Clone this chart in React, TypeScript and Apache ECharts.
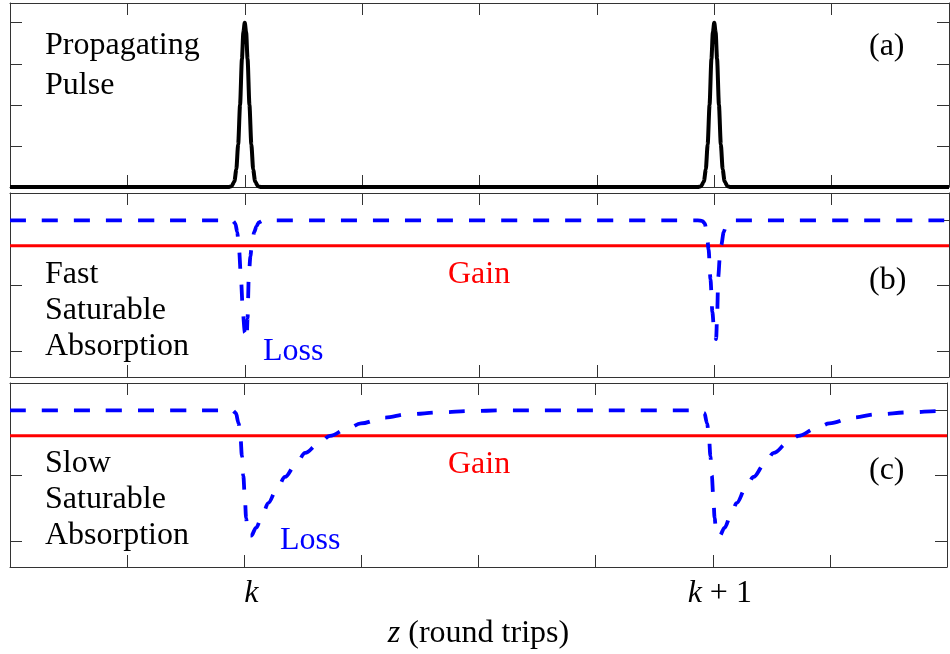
import React, { useEffect, useRef } from "react";
import * as echarts from "echarts";

// x positions in round trips (k = 0, k + 1 = 1)
const zTickLabels: Record<number, string> = { 0: "{i|k}", 1: "{i|k} + 1" };

// (a) propagating pulse
const pulseZ = [-0.5, -0.035, -0.028, -0.022, -0.018, -0.014, -0.01, -0.006, -0.003, 0, 0.003, 0.006, 0.01, 0.014, 0.018, 0.022, 0.028, 0.035,
  0.965, 0.972, 0.978, 0.982, 0.986, 0.99, 0.994, 0.997, 1, 1.003, 1.006, 1.01, 1.014, 1.018, 1.022, 1.028, 1.035, 1.5];
const pulseP = [0, 0, 0.005, 0.035, 0.106, 0.26, 0.5, 0.78, 0.94, 1, 0.94, 0.78, 0.5, 0.26, 0.106, 0.035, 0.005, 0,
  0, 0.005, 0.035, 0.106, 0.26, 0.5, 0.78, 0.94, 1, 0.94, 0.78, 0.5, 0.26, 0.106, 0.035, 0.005, 0, 0];

// (b) fast saturable absorption: loss
const fastZ = [-0.5, -0.035, -0.025, -0.02, -0.016, -0.012, -0.008, -0.004, 0, 0.004, 0.006, 0.0085, 0.012, 0.015, 0.02, 0.025, 0.03, 0.04,
  0.965, 0.975, 0.98, 0.984, 0.988, 0.992, 0.996, 1, 1.004, 1.006, 1.0085, 1.012, 1.015, 1.02, 1.025, 1.03, 1.04, 1.5];
const fastL = [2, 2, 1.99, 1.95, 1.82, 1.55, 1.1, 0.6, 0.28, 0.18, 0.5, 1.13, 1.45, 1.62, 1.82, 1.91, 1.97, 2,
  2, 1.99, 1.95, 1.82, 1.55, 1.1, 0.6, 0.28, 0.18, 0.5, 1.13, 1.45, 1.62, 1.82, 1.91, 1.97, 2, 2];

// (c) slow saturable absorption: loss
const slowZ = [-0.5, -0.025, -0.018, -0.012, -0.008, -0.005, -0.002, 0.001, 0.004, 0.007, 0.011, 0.015, 0.025, 0.04, 0.051, 0.07, 0.087, 0.11, 0.13, 0.16, 0.183, 0.22, 0.249, 0.3, 0.349, 0.42, 0.483, 0.55,
  0.975, 0.982, 0.988, 0.992, 0.995, 0.998, 1.001, 1.004, 1.007, 1.011, 1.015, 1.025, 1.04, 1.051, 1.07, 1.087, 1.11, 1.13, 1.16, 1.183, 1.22, 1.249, 1.3, 1.349, 1.42, 1.483, 1.5];
const slowL = [2, 2, 1.96, 1.8, 1.58, 1.3, 1.0, 0.7, 0.35, 0.15, 0.08, 0.08, 0.2, 0.42, 0.58, 0.8, 0.98, 1.17, 1.35, 1.5, 1.61, 1.72, 1.8, 1.89, 1.94, 1.97, 1.99, 2,
  2, 1.96, 1.8, 1.58, 1.3, 1.0, 0.7, 0.35, 0.15, 0.08, 0.08, 0.2, 0.42, 0.58, 0.8, 0.98, 1.17, 1.35, 1.5, 1.61, 1.72, 1.8, 1.89, 1.94, 1.97, 1.99, 1.99];

// gain (constant)
const gainZ = [-0.5, 1.5];
const gainG = [1.61, 1.61];

const zip = (xs: number[], ys: number[]) => xs.map((x, i) => [x, ys[i]]);

const FONT = "Liberation Serif";
const FS = 32;
const AX = "#333";

export default function App() {
  const ref = useRef<HTMLDivElement>(null);
  useEffect(() => {
    if (!ref.current) return;
    const chart = echarts.init(ref.current, null, { renderer: "svg" });
    const tops = [3, 193, 383];
    const grids = tops.map((t) => ({ left: 10, top: t, width: 939, height: 184 }));
    const xAxes: any[] = [];
    const yAxes: any[] = [];
    const yRanges = [
      { min: 0, max: 1.12, ticks: [0.25, 0.5, 0.75, 1] },
      { min: -0.4, max: 2.42, ticks: [0, 1, 2] },
      { min: -0.4, max: 2.42, ticks: [0, 1, 2] },
    ];
    tops.forEach((_, g) => {
      ["bottom", "top"].forEach((pos) => {
        const isMain = pos === "bottom" && g === 2;
        xAxes.push({
          type: "value",
          gridIndex: g,
          position: pos,
          min: -0.5,
          max: 1.5,
          interval: 0.25,
          axisLine: { show: true, onZero: false, lineStyle: { color: AX, width: 1 } },
          axisTick: { show: true, inside: true, length: 12, lineStyle: { color: AX, width: 1 } },
          splitLine: { show: false },
          axisLabel: isMain
            ? {
                show: true,
                margin: 8,
                padding: [0, 0, 0, 14],
                formatter: (v: number) => zTickLabels[v] ?? "",
                fontFamily: FONT,
                fontSize: FS,
                color: "#000",
                rich: { i: { fontStyle: "italic", fontFamily: FONT, fontSize: FS, color: "#000" } },
              }
            : { show: false },
          name: isMain ? "{i|z} (round trips)" : "",
          nameLocation: "middle",
          nameGap: 48,
          nameTextStyle: {
            fontFamily: FONT,
            fontSize: FS,
            color: "#000",
            rich: { i: { fontStyle: "italic", fontFamily: FONT, fontSize: FS, color: "#000" } },
          },
        });
      });
      ["left", "right"].forEach((pos) => {
        const r = yRanges[g];
        yAxes.push({
          type: "value",
          gridIndex: g,
          position: pos,
          min: r.min,
          max: r.max,
          axisLine: { show: true, onZero: false, lineStyle: { color: AX, width: 1 } },
          axisTick: { show: true, inside: true, length: 12, customValues: r.ticks, lineStyle: { color: AX, width: 1 } },
          axisLabel: { show: false },
          splitLine: { show: false },
        });
      });
    });

    const dash = { color: "#0000ff", width: 3.8, type: [16, 16], cap: "butt" };
    const series: any[] = [
      {
        type: "line", xAxisIndex: 0, yAxisIndex: 0, data: zip(pulseZ, pulseP), showSymbol: false,
        smooth: 0.25, smoothMonotone: "x", clip: false,
        lineStyle: { color: "#000", width: 4 },
      },
      {
        type: "line", xAxisIndex: 2, yAxisIndex: 2, data: zip(gainZ, gainG), showSymbol: false,
        lineStyle: { color: "#ff0000", width: 3 },
      },
      {
        type: "line", xAxisIndex: 2, yAxisIndex: 2, data: zip(fastZ, fastL), showSymbol: false,
        smooth: 0.25, smoothMonotone: "x", lineStyle: dash,
      },
      {
        type: "line", xAxisIndex: 4, yAxisIndex: 4, data: zip(gainZ, gainG), showSymbol: false,
        lineStyle: { color: "#ff0000", width: 3 },
      },
      {
        type: "line", xAxisIndex: 4, yAxisIndex: 4, data: zip(slowZ, slowL), showSymbol: false,
        smooth: 0.35, smoothMonotone: "x", lineStyle: dash,
      },
    ];

    const txt = (text: string, x: number, y: number, fill = "#000") => ({
      type: "text",
      x,
      y,
      style: { text, fontFamily: FONT, fontSize: FS, fill },
    });

    chart.setOption({
      animation: false,
      textStyle: { fontFamily: FONT },
      grid: grids,
      xAxis: xAxes,
      yAxis: yAxes,
      series,
      graphic: [
        txt("Propagating", 45, 27),
        txt("Pulse", 45, 67),
        txt("(a)", 869, 28),
        txt("Fast", 45, 256),
        txt("Saturable", 45, 292),
        txt("Absorption", 45, 328),
        txt("(b)", 869, 262),
        txt("Gain", 448, 256, "#ff0000"),
        txt("Loss", 263, 333, "#0000ff"),
        txt("Slow", 45, 445),
        txt("Saturable", 45, 481),
        txt("Absorption", 45, 517),
        txt("(c)", 869, 452),
        txt("Gain", 448, 446, "#ff0000"),
        txt("Loss", 280, 522, "#0000ff"),
      ],
    });
    return () => chart.dispose();
  }, []);
  return <div ref={ref} style={{ position: "fixed", left: 0, top: 0, width: 950, height: 654 }} />;
}
